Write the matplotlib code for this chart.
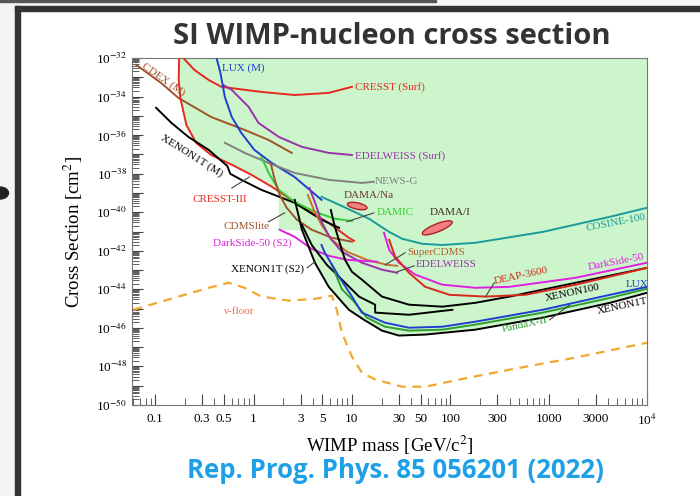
import numpy as np
import matplotlib.pyplot as plt
from matplotlib.patches import Rectangle, Circle
from matplotlib.ticker import LogLocator, NullFormatter

plt.rcParams['font.family'] = ['Liberation Serif', 'DejaVu Serif']
plt.rcParams['mathtext.fontset'] = 'stix'

# ---- data (mass in GeV/c^2, cross section in cm^2) ----
excl_m = [0.173, 0.172, 0.18, 0.207, 0.26, 0.37, 0.60, 0.95, 1.53, 1.8, 1.8, 3.1,
          4.2, 5.8, 9.3, 13.3, 20.2, 30, 55.6, 180, 870, 4200, 1e4, 1e4]
excl_s = [1e-32, 7.2e-34, 8.5e-35, 3.4e-36, 4.0e-37, 9.3e-38, 2.9e-38, 8.7e-39, 2.1e-39,
          1.3e-39, 1.23e-41, 1.1e-41, 2.4e-43, 1.35e-44, 8.7e-46, 2.6e-46, 7.2e-47,
          4.0e-47, 4.5e-47, 8.1e-47, 3.4e-46, 2.0e-45, 6.6e-45, 1e-32]

cdex_m = [0.064, 0.115, 0.172, 0.37, 0.81, 1.42, 2.44]
cdex_s = [4.4e-33, 5.0e-34, 8.5e-35, 8.7e-36, 1.86e-36, 5.6e-37, 1.2e-37]

cresst3_m = [0.175, 0.173, 0.18, 0.207, 0.26, 0.37, 0.60, 0.95, 1.53, 3.1, 5.8, 9.3, 10.5]
cresst3_s = [1e-32, 7.2e-34, 8.5e-35, 3.4e-36, 4.0e-37, 9.3e-38, 2.9e-38, 8.7e-39,
             2.1e-39, 1.9e-40, 2.8e-41, 4.7e-42, 3.3e-42]

x1tm_m = [0.102, 0.146, 0.217, 0.35, 0.54, 0.58, 0.75, 1.2, 2.6, 4.9, 7.4]
x1tm_s = [2.6e-35, 4.3e-36, 8.1e-37, 1.7e-37, 2.5e-38, 9.8e-39, 4.8e-39, 1.45e-39,
          3.1e-40, 4.1e-41, 1.55e-41]

luxm_m = [0.42, 0.46, 0.51, 0.60, 0.75, 1.02, 1.53, 2.6, 4.9]
luxm_s = [1e-32, 1.66e-33, 9.5e-35, 8.7e-36, 1.29e-36, 1.7e-37, 3.6e-38, 6.8e-39, 4.4e-40]

cresst_surf_m = [0.193, 0.25, 0.35, 0.47, 1.2, 2.6, 5.8, 10]
cresst_surf_s = [1e-32, 2.4e-33, 7.2e-34, 3.2e-34, 1.74e-34, 1.2e-34, 1.55e-34, 3.2e-34]

edw_surf_m = [0.49, 0.6, 0.89, 1.12, 1.8, 3.1, 5.8, 10]
edw_surf_s = [4.0e-34, 2.2e-34, 2.9e-35, 4.3e-36, 8.1e-37, 2.45e-37, 1.2e-37, 9.3e-38]

newsg_m = [0.51, 0.81, 1.42, 2.6, 5.8, 12.6, 16.7]
newsg_s = [4.0e-37, 1.2e-37, 3.6e-38, 1.1e-38, 4.8e-39, 3.3e-39, 3.8e-39]

damic_m = [1.2, 1.42, 1.8, 2.6, 4.2, 6.7, 10]
damic_s = [7.4e-38, 1.1e-38, 1.45e-39, 3.5e-40, 1.05e-40, 4.6e-41, 3.5e-41]

cosine_m = [4.9, 7.9, 14.9, 23.9, 32.4, 51.8, 83, 180, 870, 4200, 1e4]
cosine_s = [6.3e-40, 2.1e-40, 4.6e-41, 9.5e-42, 4.2e-42, 2.3e-42, 2.0e-42, 2.6e-42,
            9.5e-42, 5.8e-41, 1.7e-40]

cdmslite_m = [1.49, 1.64, 1.84, 2.17, 2.75, 3.9, 6.25, 10]
cdmslite_s = [3.6e-38, 4.8e-39, 7.9e-40, 1.7e-40, 4.1e-41, 1.23e-41, 4.7e-42, 2.95e-42]

scdms_m = [3.56, 4.1, 4.9, 6.25, 8.9, 14.2, 22.8, 28.8]
scdms_s = [7.9e-40, 1.3e-40, 2.2e-41, 3.7e-42, 8.9e-43, 3.4e-43, 1.86e-43, 1.66e-43]

edw_m = [3.7, 4.3, 4.9, 5.97, 7.9, 12.6, 20.2, 28.8]
edw_s = [1.8e-39, 2.4e-40, 3.2e-41, 4.7e-42, 8.9e-43, 2.4e-43, 1.05e-43, 7.2e-44]

ds50s2_m = [1.84, 2.6, 3.9, 5.8, 8.9, 18]
ds50s2_s = [1.23e-41, 5.4e-42, 1.26e-42, 5.5e-43, 3.4e-43, 2.7e-43]

ds50_m = [21.2, 23.9, 30, 44, 83, 180, 400, 1890, 1e4]
ds50_s = [8.5e-42, 1.12e-42, 2.4e-43, 5.8e-44, 1.74e-44, 1.2e-44, 1.35e-44, 4.0e-44, 2.4e-43]

deap_m = [23.9, 27.5, 38, 55.6, 98, 228, 580, 1890, 1e4]
deap_s = [3.7e-42, 4.9e-43, 7.2e-44, 1.35e-44, 5.2e-45, 4.2e-45, 5.2e-45, 1.74e-44, 1.3e-43]

x100_m = [6.1, 6.7, 7.9, 8.5, 10, 12.6, 20.2, 38, 83, 180, 400, 1890, 1e4]
x100_s = [1.3e-40, 1.74e-41, 1.12e-42, 3.4e-43, 8.1e-44, 3.2e-44, 4.2e-45, 1.6e-45,
          1.26e-45, 2.0e-45, 4.2e-45, 2.2e-44, 1.3e-43]

x1ts2_m = [3.1, 3.9, 5.56, 7.9, 11.8, 17.2, 17.2, 38, 105]
x1ts2_s = [2.2e-41, 2.0e-42, 1.86e-43, 3.2e-44, 4.2e-45, 1.6e-45, 6.2e-46, 4.8e-46, 8.7e-46]

lux_m = [4.9, 5.3, 7.4, 10, 12.6, 21.7, 38, 83, 180, 870, 4200, 1e4]
lux_s = [2.0e-42, 7.9e-43, 4.5e-44, 4.2e-45, 6.2e-46, 1.86e-46, 1.02e-46, 1.15e-46,
         2.1e-46, 8.7e-46, 5.2e-45, 1.35e-44]

pandax_m = [6.25, 7.9, 10.5, 14.2, 21.7, 38, 83, 180, 870, 4200, 1e4]
pandax_s = [1.86e-43, 1.02e-44, 2.3e-45, 3.4e-46, 1.15e-46, 7.2e-47, 8.1e-47, 1.48e-46,
            6.2e-46, 3.6e-45, 1.07e-44]

x1t_m = [2.62, 3.1, 4.2, 5.8, 9.3, 13.3, 20.2, 30, 55.6, 180, 870, 4200, 1e4]
x1t_s = [4.4e-40, 1.23e-41, 2.4e-43, 1.35e-44, 8.7e-46, 2.6e-46, 7.2e-47, 4.0e-47,
         4.5e-47, 8.1e-47, 3.4e-46, 2.0e-45, 6.6e-45]

nufloor_m = [0.06, 0.077, 0.172, 0.35, 0.556, 0.81, 1.2, 2.28, 4.2, 6.25, 7.0, 7.9, 10,
             12.6, 17.2, 32.4, 55.6, 124, 400, 1890, 1e4]
nufloor_s = [8.7e-46, 1.26e-45, 4.2e-45, 1.2e-44, 2.2e-44, 1.2e-44, 4.2e-45, 2.6e-45,
             3.2e-45, 4.7e-45, 8.7e-46, 5.6e-47, 3.2e-48, 4.8e-49, 2.1e-49, 8.9e-50,
             8.9e-50, 2.1e-49, 6.8e-49, 2.9e-48, 1.7e-47]

# DAMA regions: centre mass, centre cross section
dama_na = (11.3, 2.1e-40)
dama_i = (73.7, 1.55e-41)

curves = [
    (cdex_m, cdex_s, '#a0522d'),
    (cresst_surf_m, cresst_surf_s, '#e8281e'),
    (edw_surf_m, edw_surf_s, '#9932a8'),
    (luxm_m, luxm_s, '#1f3fd0'),
    (newsg_m, newsg_s, '#808080'),
    (cresst3_m, cresst3_s, '#e8281e'),
    (x1tm_m, x1tm_s, 'black'),
    (damic_m, damic_s, '#33cc33'),
    (cosine_m, cosine_s, '#1a9a9a'),
    (cdmslite_m, cdmslite_s, '#a0522d'),
    (scdms_m, scdms_s, '#c87030'),
    (edw_m, edw_s, '#9932a8'),
    (ds50s2_m, ds50s2_s, '#e020e0'),
    (ds50_m, ds50_s, '#e020e0'),
    (x100_m, x100_s, 'black'),
    (deap_m, deap_s, '#d62a1a'),
    (x1ts2_m, x1ts2_s, 'black'),
    (x1t_m, x1t_s, 'black'),
    (pandax_m, pandax_s, '#2e9e2e'),
    (lux_m, lux_s, '#1f3fd0'),
]

labels = [
    ('CDEX (M)', 0.121, 8.1e-34, '#a0522d', -35, 'center'),
    ('LUX (M)', 0.48, 3.0e-33, '#1f3fd0', 0, 'left'),
    ('CRESST (Surf)', 10.7, 3.2e-34, '#e8281e', 0, 'left'),
    ('EDELWEISS (Surf)', 10.7, 8.3e-38, '#9932a8', 0, 'left'),
    ('NEWS-G', 17.2, 3.8e-39, '#808080', 0, 'left'),
    ('DAMA/Na', 8.3, 7.1e-40, '#6b3a2a', 0, 'left'),
    ('DAMIC', 18, 9.3e-41, '#33cc33', 0, 'left'),
    ('DAMA/I', 61, 9.3e-41, '#4a2a1a', 0, 'left'),
    ('CRESST-III', 0.45, 4.4e-40, '#e8281e', 0, 'center'),
    ('XENON1T (M)', 0.233, 8.3e-38, 'black', -32, 'center'),
    ('CDMSlite', 0.85, 1.74e-41, '#a0522d', 0, 'center'),
    ('DarkSide-50 (S2)', 0.98, 2.6e-42, '#e020e0', 0, 'center'),
    ('XENON1T (S2)', 1.39, 1.05e-43, 'black', 0, 'center'),
    ('\u03bd-floor', 0.72, 6.9e-46, '#f07050', 0, 'center'),
    ('SuperCDMS', 36.4, 7.9e-43, '#b06030', 0, 'left'),
    ('EDELWEISS', 44, 1.86e-43, '#9932a8', 0, 'left'),
    ('COSINE-100', 4830, 2.8e-41, '#1a9a9a', 11, 'center'),
    ('DarkSide-50', 4830, 2.7e-43, '#e020e0', 11, 'center'),
    ('DEAP-3600', 530, 5.0e-44, '#d62a1a', 12, 'center'),
    ('XENON100', 1760, 6.6e-45, 'black', 12, 'center'),
    ('LUX', 7900, 1.74e-44, '#1f3fd0', 0, 'center'),
    ('XENON1T', 5560, 1.41e-45, 'black', 12, 'center'),
    ('PandaX-II', 569, 1.48e-46, '#2e9e2e', 12, 'center'),
]

leaders = [
    ((0.6, 0.91), (1.8e-39, 6.8e-39)),
    ((8.9, 16.7), (3.2e-41, 9.3e-41)),
    ((1.42, 2.07), (3.2e-41, 9.3e-41)),
    ((3.5, 4.2), (1.3e-43, 2.7e-43)),
    ((21.8, 34.7), (1.86e-43, 7.9e-43)),
    ((28.8, 43), (8.1e-44, 1.66e-43)),
    ((228, 280), (4.2e-45, 2.2e-44)),
    ((1020, 1650), (2.6e-46, 1.6e-45)),
]

xtick_vals = [0.1, 0.3, 0.5, 1, 3, 5, 10, 30, 50, 100, 300, 1000, 3000, 1e4]
xtick_text = ['0.1', '0.3', '0.5', '1', '3', '5', '10', '30', '50', '100', '300',
              '1000', '3000', '10$^4$']

# ---- figure ----
fig = plt.figure(figsize=(7, 4.96), dpi=100)
W, H = 700, 496
fig.patches.append(Rectangle((0, 0), 15 / W, 1, transform=fig.transFigure,
                             color='#f4f4f2', zorder=0))
fig.patches.append(Rectangle((0, 490 / H), 1, 6 / H, transform=fig.transFigure,
                             color='#f4f4f2', zorder=0))
fig.patches.append(Rectangle((0, 494 / H), 436 / W, 1.5 / H, transform=fig.transFigure,
                             color='#555555', zorder=1))
fig.patches.append(Rectangle((15 / W, 0), 5 / W, 490 / H, transform=fig.transFigure,
                             color='#333333', zorder=1))
fig.patches.append(Rectangle((15 / W, 485 / H), 685 / W, 5 / H, transform=fig.transFigure,
                             color='#333333', zorder=1))
fig.patches.append(Circle((0, 303 / H), 6 / H, transform=fig.transFigure,
                          color='#222222', zorder=1))

ax = fig.add_axes([132 / W, 1 - 405 / H, 515 / W, 347 / H])
ax.set_xscale('log')
ax.set_yscale('log')
ax.set_xlim(0.058, 1e4)
ax.set_ylim(1e-50, 1e-32)

ax.fill(excl_m, excl_s, color='#ccf5cc', lw=0, zorder=0)

for m, s, c in curves:
    ax.plot(m, s, color=c, lw=1.4, zorder=3)

ax.plot(nufloor_m, nufloor_s, color='#f0a830', lw=1.6, ls=(0, (4, 3)), zorder=3)

# DAMA contours (half axes in px, tilt in degrees)
t = np.linspace(0, 2 * np.pi, 80)
for (mc, sc), a, b, ang in [(dama_na, 10, 3.2, -12), (dama_i, 16, 4, 22)]:
    r = np.radians(ang)
    u = a * np.cos(t) * np.cos(r) - b * np.sin(t) * np.sin(r)
    v = a * np.cos(t) * np.sin(r) + b * np.sin(t) * np.cos(r)
    ax.fill(mc * 10 ** (u / 98), sc * 10 ** (v / 19.3), facecolor='#f08080',
            edgecolor='#b02020', lw=1, zorder=4)

for (mx, sy) in leaders:
    ax.plot(mx, sy, color='#444444', lw=0.8, zorder=4)

for txt, m, s, c, rot, ha in labels:
    ax.text(m, s, txt, color=c, fontsize=8, rotation=rot, ha=ha, va='center',
            rotation_mode='anchor', zorder=5)

ax.set_xticks(xtick_vals, xtick_text)
ax.xaxis.set_minor_locator(LogLocator(base=10, subs=np.arange(2, 10), numticks=50))
ax.xaxis.set_minor_formatter(NullFormatter())

yvals = [10.0 ** e for e in range(-50, -31)]
ytext = ['10$^{%d}$' % e if e % 2 == 0 else '' for e in range(-50, -31)]
ax.set_yticks(yvals, ytext)
ax.yaxis.set_minor_locator(LogLocator(base=10, subs=np.arange(2, 10), numticks=100))
ax.yaxis.set_minor_formatter(NullFormatter())

ax.tick_params(which='both', direction='in', labelsize=9.5, color='#444444')
ax.tick_params(which='major', length=8)
ax.tick_params(which='minor', length=5)
ax.tick_params(axis='x', pad=6)
for sp in ax.spines.values():
    sp.set_color('#777777')

ax.set_xlabel('WIMP mass [GeV/c$^2$]', fontsize=13.5, labelpad=4)
ax.set_ylabel('Cross Section [cm$^2$]', fontsize=13.5, labelpad=8)

fig.text(392 / W, 1 - 37 / H, 'SI WIMP-nucleon cross section', family='Open Sans',
         fontweight='bold', fontsize=21, color='#333333', ha='center', va='center')
fig.text(395 / W, 1 - 471 / H, 'Rep. Prog. Phys. 85 056201 (2022)', family='Open Sans',
         fontweight='bold', fontsize=18.5, color='#1ea0e6', ha='center', va='center')

plt.savefig('out.png', dpi=100)
